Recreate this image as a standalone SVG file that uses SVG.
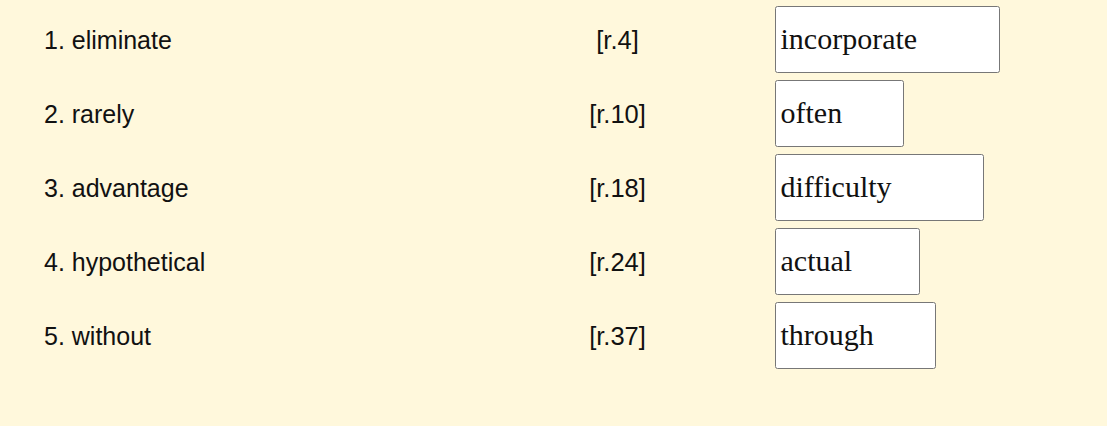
<svg xmlns="http://www.w3.org/2000/svg" width="1107" height="426" viewBox="0 0 1107 426">
<style>
.bg{fill:#FFF8DC}
.lbl{font-family:"Liberation Sans",Arial,sans-serif;font-size:25px;fill:#111}
.ref{font-family:"Liberation Sans",Arial,sans-serif;font-size:25.5px;fill:#111;text-anchor:middle}
.box{fill:#ffffff;stroke:#777777;stroke-width:1}
.ans{font-family:"Liberation Serif","Times New Roman",serif;font-size:30px;fill:#111}
</style>
<rect class="bg" x="0" y="0" width="1107" height="426"/>
<g id="row1">
<text class="lbl" x="44" y="48.5">1. eliminate</text>
<text class="ref" x="617.5" y="48.5">[r.4]</text>
<rect class="box" x="775.5" y="6.5" width="224" height="66" rx="2"/>
<text class="ans" x="780.5" y="49">incorporate</text>
</g>
<g id="row2">
<text class="lbl" x="44" y="122.5">2. rarely</text>
<text class="ref" x="617.5" y="122.5">[r.10]</text>
<rect class="box" x="775.5" y="80.5" width="128" height="66" rx="2"/>
<text class="ans" x="780.5" y="123">often</text>
</g>
<g id="row3">
<text class="lbl" x="44" y="196.5">3. advantage</text>
<text class="ref" x="617.5" y="196.5">[r.18]</text>
<rect class="box" x="775.5" y="154.5" width="208" height="66" rx="2"/>
<text class="ans" x="780.5" y="197">difficulty</text>
</g>
<g id="row4">
<text class="lbl" x="44" y="270.5">4. hypothetical</text>
<text class="ref" x="617.5" y="270.5">[r.24]</text>
<rect class="box" x="775.5" y="228.5" width="144" height="66" rx="2"/>
<text class="ans" x="780.5" y="271">actual</text>
</g>
<g id="row5">
<text class="lbl" x="44" y="344.5">5. without</text>
<text class="ref" x="617.5" y="344.5">[r.37]</text>
<rect class="box" x="775.5" y="302.5" width="160" height="66" rx="2"/>
<text class="ans" x="780.5" y="345">through</text>
</g>
<g id="connectors"></g>
</svg>
